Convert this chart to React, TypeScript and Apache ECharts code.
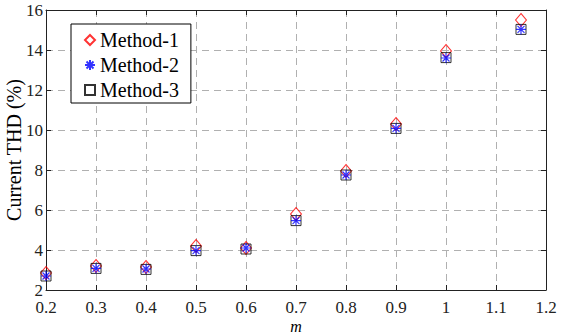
import React, { useEffect, useRef } from "react";
import * as echarts from "echarts";

const mValues = [0.2, 0.3, 0.4, 0.5, 0.6, 0.7, 0.8, 0.9, 1.0, 1.15];
const method1 = [2.85, 3.2, 3.15, 4.2, 4.1, 5.8, 7.95, 10.3, 13.95, 15.5];
const method2 = [2.7, 3.08, 3.05, 3.97, 4.1, 5.47, 7.75, 10.08, 13.6, 15.03];
const method3 = [2.7, 3.08, 3.03, 3.97, 4.05, 5.47, 7.75, 10.08, 13.62, 15.03];
const seriesNames = ["Method-1", "Method-2", "Method-3"];

const FONT = "'Liberation Serif', 'Times New Roman', serif";
const starPath =
  "path://M5 0 L5 10 M0 5 L10 5 M1.5 1.5 L8.5 8.5 M8.5 1.5 L1.5 8.5";

export default function App() {
  const ref = useRef<HTMLDivElement>(null);
  useEffect(() => {
    const chart = echarts.init(ref.current!, null, { renderer: "svg" });
    const toPairs = (ys: number[]) => mValues.map((x, i) => [x, ys[i]]);
    const gridLine = {
      show: true,
      lineStyle: { color: "#b0b0b0", type: [7, 5] as any, width: 1 },
    };
    const axisLine = { show: true, lineStyle: { color: "#222", width: 1 } };
    const tick = { show: true, inside: true, length: 5, lineStyle: { color: "#222" } };
    chart.setOption({
      animation: false,
      backgroundColor: "#fff",
      textStyle: { fontFamily: FONT },
      grid: {
        left: 46,
        right: 15,
        top: 10,
        bottom: 44,
        containLabel: false,
        outerBoundsMode: "none",
      } as any,
      legend: {
        data: seriesNames,
        orient: "vertical",
        left: 71,
        top: 24,
        itemWidth: 10,
        itemHeight: 10,
        itemGap: 5,
        padding: [6, 12, 3, 13],
        borderColor: "#000",
        borderWidth: 1,
        backgroundColor: "#fff",
        textStyle: { fontFamily: FONT, fontSize: 20, color: "#000" },
      },
      xAxis: [
        {
          type: "value",
          min: 0.2,
          max: 1.2,
          interval: 0.1,
          name: "m",
          nameLocation: "middle",
          nameGap: 28,
          nameMoveOverlap: false,
          nameTextStyle: { fontFamily: FONT, fontStyle: "italic", fontSize: 16, color: "#000" },
          axisLine,
          axisTick: tick,
          axisLabel: {
            fontFamily: FONT,
            fontSize: 17,
            color: "#222",
            margin: 9,
            formatter: (v: number) => String(Math.round(v * 10) / 10),
          },
          splitLine: gridLine,
        } as any,
        {
          type: "value",
          position: "top",
          min: 0.2,
          max: 1.2,
          interval: 0.1,
          axisLine,
          axisTick: tick,
          axisLabel: { show: false },
          splitLine: { show: false },
        },
      ],
      yAxis: [
        {
          type: "value",
          min: 2,
          max: 16,
          interval: 2,
          name: "Current THD (%)",
          nameLocation: "middle",
          nameGap: 22,
          nameMoveOverlap: false,
          nameTextStyle: { fontFamily: FONT, fontSize: 20, color: "#000" },
          axisLine,
          axisTick: tick,
          axisLabel: { fontFamily: FONT, fontSize: 17, color: "#222", margin: 3 },
          splitLine: gridLine,
        } as any,
        {
          type: "value",
          position: "right",
          min: 2,
          max: 16,
          interval: 2,
          axisLine,
          axisTick: tick,
          axisLabel: { show: false },
          splitLine: { show: false },
        },
      ],
      series: [
        {
          name: "Method-1",
          type: "scatter",
          data: toPairs(method1),
          symbol: "diamond",
          symbolSize: [11, 13],
          z: 2,
          itemStyle: { color: "rgba(0,0,0,0)", borderColor: "#ff0000", borderWidth: 1 },
        },
        {
          name: "Method-3",
          type: "scatter",
          data: toPairs(method3),
          symbol: "rect",
          symbolSize: 10,
          z: 3,
          itemStyle: { color: "rgba(0,0,0,0)", borderColor: "#000", borderWidth: 1 },
        },
        {
          name: "Method-2",
          type: "scatter",
          data: toPairs(method2),
          symbol: starPath,
          symbolSize: 10,
          z: 4,
          itemStyle: { color: "rgba(0,0,0,0)", borderColor: "#0000ff", borderWidth: 1.2 },
        },
      ],
    });
    return () => chart.dispose();
  }, []);
  return (
    <div
      ref={ref}
      style={{ position: "fixed", left: 0, top: 0, width: 561, height: 334 }}
    />
  );
}
